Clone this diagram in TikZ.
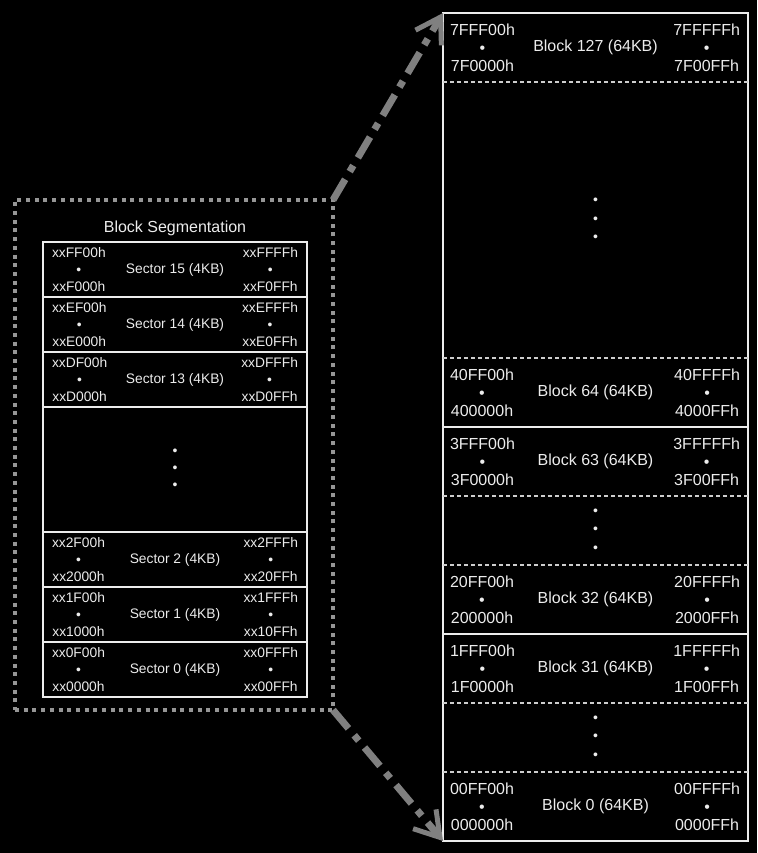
\documentclass[tikz,border=0pt]{standalone}
\usepackage{fontspec}
\setmainfont{Liberation Sans}
\usetikzlibrary{arrows.meta}
\definecolor{fg}{RGB}{236,236,236}
\definecolor{arrowgray}{RGB}{128,128,128}
\definecolor{dotgray}{RGB}{150,150,150}
\definecolor{sepgray}{RGB}{205,205,205}
\newcommand{\secrow}[7]{%
  \node[seccell] (#1) at (175,#2) {#3};
  \node[slbl, anchor=west] at ([xshift=9pt]#1.west) {#4\\•\\#5};
  \node[slbl, anchor=east] at ([xshift=-9pt]#1.east) {#6\\•\\#7};
}
\newcommand{\blkrow}[7]{%
  \node[blkcell] (#1) at (595.5,#2) {#3};
  \node[blbl, anchor=west] at ([xshift=7pt]#1.west) {#4\\•\\#5};
  \node[blbl, anchor=east] at ([xshift=-8pt]#1.east) {#6\\•\\#7};
}
\begin{document}
\begin{tikzpicture}[x=1pt,y=-1pt,
  every node/.style={text=fg, inner sep=0pt, outer sep=0pt},
  seccell/.style={rectangle, draw=fg, line width=2pt, minimum width=264pt, minimum height=55pt,
    font=\fontsize{13.8}{17}\selectfont},
  slbl/.style={align=center, font=\fontsize{13.8}{17}\selectfont},
  blkcell/.style={rectangle, minimum width=305pt, minimum height=69pt,
    font=\fontsize{16}{18}\selectfont},
  blbl/.style={align=center, font=\fontsize{16}{18}\selectfont},
  vdotsl/.style={align=center, font=\fontsize{14}{17}\selectfont},
  vdotsr/.style={align=center, font=\fontsize{14}{18.5}\selectfont},
  dsep/.style={draw=sepgray, line width=1.5pt, dash pattern=on 4pt off 3pt},
  ssep/.style={draw=fg, line width=2pt},
  bigarrow/.style={draw=arrowgray, line width=7pt, dash pattern=on 24pt off 9pt on 7pt off 9pt,
    -{Straight Barb[length=24pt, width=30pt, line width=5pt]}}
]
\fill[black] (0,0) rectangle (757,853);
\useasboundingbox (0,0) rectangle (757,853);

% left: block segmentation
\node[rectangle, draw=dotgray, line width=3.5pt, dash pattern=on 4pt off 4.7pt,
  minimum width=318pt, minimum height=510pt] (seg) at (174,455) {};
\node[font=\fontsize{16}{18}\selectfont] (title) at (175,228) {Block Segmentation};

\secrow{s15}{269.5}{Sector 15 (4KB)}{xxFF00h}{xxF000h}{xxFFFFh}{xxF0FFh}
\secrow{s14}{324.5}{Sector 14 (4KB)}{xxEF00h}{xxE000h}{xxEFFFh}{xxE0FFh}
\secrow{s13}{379.5}{Sector 13 (4KB)}{xxDF00h}{xxD000h}{xxDFFFh}{xxD0FFh}
\node[rectangle, draw=fg, line width=2pt, minimum width=264pt, minimum height=125pt] (sgap) at (175,469.5) {};
\node[vdotsl] at (sgap.center) {•\\•\\•};
\secrow{s2}{559.5}{Sector 2 (4KB)}{xx2F00h}{xx2000h}{xx2FFFh}{xx20FFh}
\secrow{s1}{614.5}{Sector 1 (4KB)}{xx1F00h}{xx1000h}{xx1FFFh}{xx10FFh}
\secrow{s0}{669.5}{Sector 0 (4KB)}{xx0F00h}{xx0000h}{xx0FFFh}{xx00FFh}

% right: memory column
\node[rectangle, draw=fg, line width=2.5pt, minimum width=305pt, minimum height=828pt] (col) at (595.5,427) {};
\blkrow{b127}{47.5}{Block 127 (64KB)}{7FFF00h}{7F0000h}{7FFFFFh}{7F00FFh}
\node[blkcell, minimum height=276pt] (gapa) at (595.5,220) {};
\node[vdotsr] at (gapa.center) {•\\•\\•};
\blkrow{b64}{392.5}{Block 64 (64KB)}{40FF00h}{400000h}{40FFFFh}{4000FFh}
\blkrow{b63}{461.5}{Block 63 (64KB)}{3FFF00h}{3F0000h}{3FFFFFh}{3F00FFh}
\node[blkcell] (gapb) at (595.5,530.5) {};
\node[vdotsr] at (gapb.center) {•\\•\\•};
\blkrow{b32}{599.5}{Block 32 (64KB)}{20FF00h}{200000h}{20FFFFh}{2000FFh}
\blkrow{b31}{668.5}{Block 31 (64KB)}{1FFF00h}{1F0000h}{1FFFFFh}{1F00FFh}
\node[blkcell] (gapc) at (595.5,737.5) {};
\node[vdotsr] at (gapc.center) {•\\•\\•};
\blkrow{b0}{806.5}{Block 0 (64KB)}{00FF00h}{000000h}{00FFFFh}{0000FFh}

\draw[dsep] (b127.south west) -- (b127.south east);
\draw[dsep] (b64.north west) -- (b64.north east);
\draw[ssep] (b64.south west) -- (b64.south east);
\draw[dsep] (b63.south west) -- (b63.south east);
\draw[dsep] (b32.north west) -- (b32.north east);
\draw[ssep] (b32.south west) -- (b32.south east);
\draw[dsep] (b31.south west) -- (b31.south east);
\draw[dsep] (b0.north west) -- (b0.north east);

% arrows
\draw[bigarrow] (seg.north east) -- (col.north west);
\draw[bigarrow] (seg.south east) -- (col.south west);
\end{tikzpicture}
\end{document}
